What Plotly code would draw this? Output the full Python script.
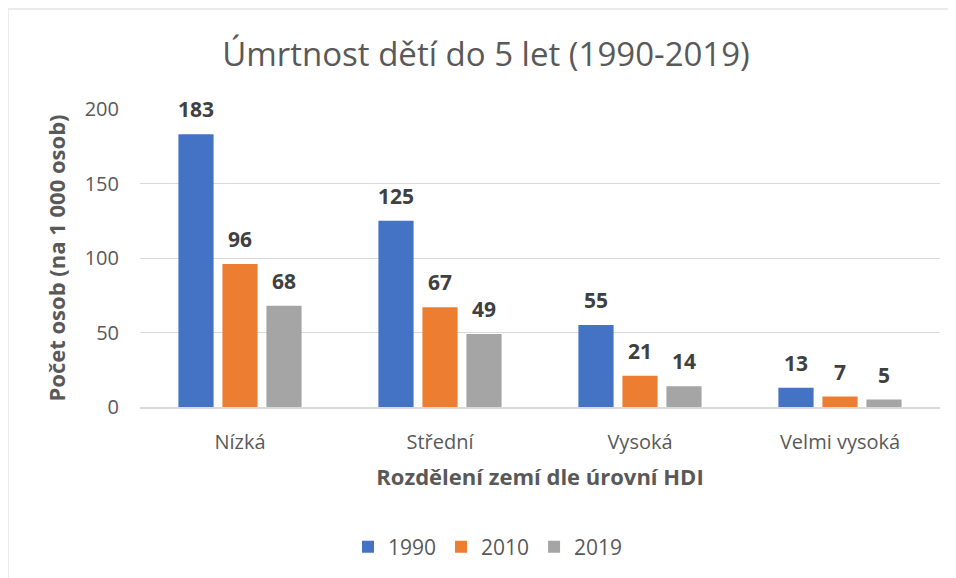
import plotly.graph_objects as go

categories = ["Nízká", "Střední", "Vysoká", "Velmi vysoká"]
years = ["1990", "2010", "2019"]
values_1990 = [183, 125, 55, 13]
values_2010 = [96, 67, 21, 7]
values_2019 = [68, 49, 14, 5]
colors = ["#4472C4", "#ED7D31", "#A5A5A5"]

series = [values_1990, values_2010, values_2019]
font_family = "'Open Sans', Lato, Arial, sans-serif"

fig = go.Figure()
for name, vals, col in zip(years, series, colors):
    fig.add_trace(go.Bar(name=name, x=categories, y=vals, marker_color=col, marker_line_width=0))

# data labels above each bar, shifted to its slot in the group
annotations = []
for i, vals in enumerate(series):
    for cat, v in zip(categories, vals):
        annotations.append(dict(
            x=cat, y=v, xref="x", yref="y", text=f"<b>{v}</b>", showarrow=False,
            xshift=(i - 1) * 44, yshift=25,
            font=dict(family=font_family, size=21, color="#404040"),
        ))

fig.update_layout(
    width=956, height=578,
    paper_bgcolor="#ffffff", plot_bgcolor="#ffffff",
    margin=dict(l=132, r=24, t=101, b=179),
    font=dict(family=font_family, size=16, color="#595959"),
    title=dict(text="Úmrtnost dětí do 5 let (1990-2019)", x=0.5, xanchor="center",
               y=0.919, yanchor="middle", font=dict(size=33, color="#595959")),
    barmode="group", bargap=0.34, bargroupgap=0.2,
    showlegend=True,
    legend=dict(orientation="h", x=0.435, xanchor="center", y=-0.47, yanchor="middle",
                font=dict(size=21, color="#595959"), traceorder="normal"),
    annotations=annotations,
    shapes=[dict(type="rect", xref="paper", yref="paper", x0=-0.165, x1=1.1, y0=-0.8, y1=1.3356,
                 line=dict(color="#d9d9d9", width=1), fillcolor="rgba(0,0,0,0)", layer="below")],
)
fig.update_xaxes(showgrid=False, showline=True, linecolor="#d9d9d9", linewidth=1.5,
                 ticks="", ticklabelstandoff=16, tickfont=dict(size=20),
                 title=dict(text="<b>Rozdělení zemí dle úrovní HDI</b>", standoff=16,
                            font=dict(size=22, color="#595959")))
fig.update_yaxes(range=[0, 200], dtick=50, showgrid=True, gridcolor="#d9d9d9", gridwidth=1,
                 zeroline=False, showline=False, ticks="", ticklabelstandoff=20,
                 tickfont=dict(size=20),
                 title=dict(text="<b>Počet osob (na 1 000 osob)</b>", standoff=12,
                            font=dict(size=22, color="#595959")))

fig.write_html("out.html")
